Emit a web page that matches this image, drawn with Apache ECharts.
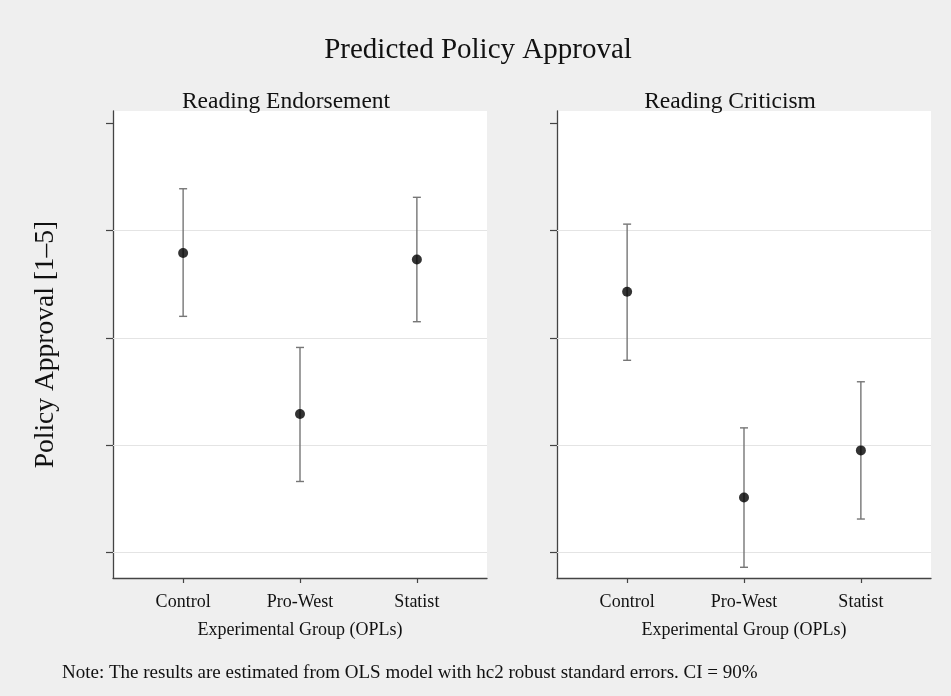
<!DOCTYPE html>
<html><head><meta charset="utf-8">
<script src="https://cdn.jsdelivr.net/npm/echarts@6/dist/echarts.min.js"></script>
<style>html,body{margin:0;padding:0;background:#efefef}#c{width:951px;height:696px}</style>
</head><body><div id="c"></div>
<script>
const categories = ['Control', 'Pro-West', 'Statist'];
const panels = ['Reading Endorsement', 'Reading Criticism'];
const endorseEst = [3.79, 2.29, 3.73];
const endorseLo  = [3.20, 1.66, 3.15];
const endorseHi  = [4.39, 2.91, 4.31];
const critEst = [3.43, 1.51, 1.95];
const critLo  = [2.79, 0.86, 1.31];
const critHi  = [4.06, 2.16, 2.59];
const yTicks = [1, 2, 3, 4, 5];
const gridValues = [1, 2, 3, 4];
const xTicks = [1, 2, 3];

const FONT = 'Liberation Serif';
const chart = echarts.init(document.getElementById('c'));

function errSeries(idx, lo, hi) {
  return {
    type: 'custom', xAxisIndex: idx, yAxisIndex: idx, silent: true, z: 3,
    data: lo.map((l, i) => [xTicks[i], l, hi[i]]),
    renderItem: function (params, api) {
      const x = api.value(0);
      const p1 = api.coord([x, api.value(1)]);
      const p2 = api.coord([x, api.value(2)]);
      const w = 4;
      const st = { stroke: '#767676', lineWidth: 1.4 };
      return { type: 'group', children: [
        { type: 'line', shape: { x1: p1[0], y1: p1[1], x2: p2[0], y2: p2[1] }, style: st },
        { type: 'line', shape: { x1: p1[0] - w, y1: p1[1], x2: p1[0] + w, y2: p1[1] }, style: st },
        { type: 'line', shape: { x1: p2[0] - w, y1: p2[1], x2: p2[0] + w, y2: p2[1] }, style: st }
      ]};
    },
    markLine: {
      silent: true, symbol: 'none', label: { show: false }, z: 1,
      lineStyle: { color: '#e4e4e4', type: 'solid', width: 1.2 },
      data: gridValues.map(v => ({ yAxis: v }))
    }
  };
}
function ptSeries(idx, est) {
  return {
    type: 'scatter', xAxisIndex: idx, yAxisIndex: idx, silent: true, z: 4,
    symbol: 'circle', symbolSize: 10, itemStyle: { color: '#000' },
    data: est.map((v, i) => [xTicks[i], v])
  };
}
function xAx(idx) {
  return {
    type: 'value', gridIndex: idx, min: 0.4, max: 3.6,
    name: 'Experimental Group (OPLs)', nameLocation: 'middle', nameGap: 43,
    nameTextStyle: { fontFamily: FONT, fontSize: 18, color: '#111' },
    axisLine: { show: true, lineStyle: { color: '#444', width: 1.3 } },
    axisTick: { show: true, length: 5, customValues: xTicks, lineStyle: { color: '#444', width: 1.2 } },
    axisLabel: { show: true, customValues: xTicks, margin: 15, fontFamily: FONT, fontSize: 18, color: '#111',
      formatter: v => categories[Math.round(v) - 1] || '' },
    splitLine: { show: false }
  };
}
function yAx(idx) {
  return {
    type: 'value', gridIndex: idx, min: 0.76, max: 5.115,
    name: idx === 0 ? 'Policy Approval [1–5]' : '', nameLocation: 'middle', nameGap: 53, nameRotate: 90,
    nameTextStyle: { fontFamily: FONT, fontSize: 27.5, color: '#111' },
    axisLine: { show: true, lineStyle: { color: '#444', width: 1.3 } },
    axisTick: { show: true, length: 7, customValues: yTicks, lineStyle: { color: '#444', width: 1.2 } },
    axisLabel: { show: false },
    splitLine: { show: false }
  };
}

chart.setOption({
  backgroundColor: '#efefef',
  animation: false,
  title: [
    { text: 'Predicted Policy Approval', left: 473, top: 31, textAlign: 'center',
      textStyle: { fontFamily: FONT, fontSize: 29, fontWeight: 'normal', color: '#111' } },
    { text: panels[0], left: 281, top: 85, textAlign: 'center',
      textStyle: { fontFamily: FONT, fontSize: 23.5, fontWeight: 'normal', color: '#111' } },
    { text: panels[1], left: 725, top: 85, textAlign: 'center',
      textStyle: { fontFamily: FONT, fontSize: 23.5, fontWeight: 'normal', color: '#111' } },
    { text: 'Note: The results are estimated from OLS model with hc2 robust standard errors. CI = 90%',
      left: 57, top: 659,
      textStyle: { fontFamily: FONT, fontSize: 19, fontWeight: 'normal', color: '#111' } }
  ],
  grid: [
    { left: 113, top: 111, width: 374, height: 467, show: true, backgroundColor: '#fff', borderWidth: 0 },
    { left: 557, top: 111, width: 374, height: 467, show: true, backgroundColor: '#fff', borderWidth: 0 }
  ],
  xAxis: [xAx(0), xAx(1)],
  yAxis: [yAx(0), yAx(1)],
  series: [
    errSeries(0, endorseLo, endorseHi), ptSeries(0, endorseEst),
    errSeries(1, critLo, critHi), ptSeries(1, critEst)
  ]
});
</script></body></html>
